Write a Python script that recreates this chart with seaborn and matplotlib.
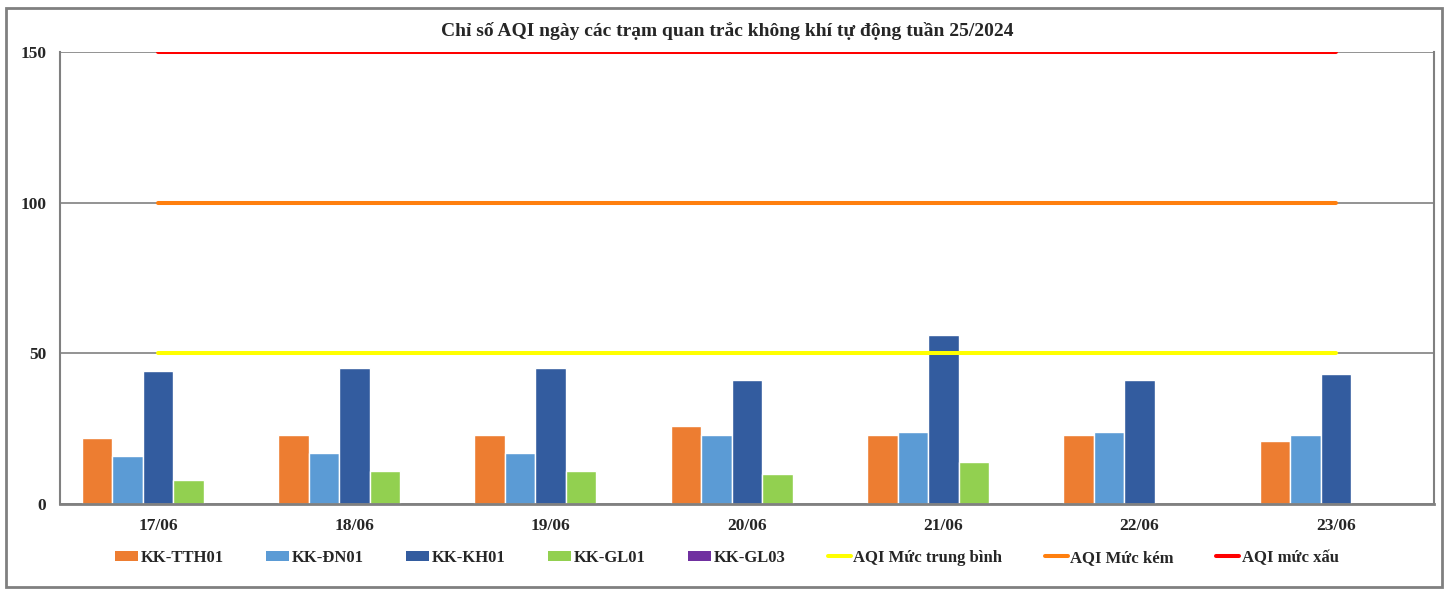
import matplotlib
matplotlib.use("Agg")
import matplotlib.pyplot as plt
import numpy as np
import pandas as pd
import seaborn as sns
from matplotlib.lines import Line2D
from matplotlib.patches import Patch, Rectangle

dates = ["17/06", "18/06", "19/06", "20/06", "21/06", "22/06", "23/06"]
kk_tth01 = [22, 23, 23, 26, 23, 23, 21]
kk_dn01 = [16, 17, 17, 23, 24, 24, 23]
kk_kh01 = [44, 45, 45, 41, 56, 41, 43]
kk_gl01 = [8, 11, 11, 10, 14, np.nan, np.nan]
kk_gl03 = [np.nan] * 7
aqi_trung_binh = [50] * 7
aqi_kem = [100] * 7
aqi_xau = [150] * 7

stations = ["KK-TTH01", "KK-ĐN01", "KK-KH01", "KK-GL01", "KK-GL03"]
station_values = [kk_tth01, kk_dn01, kk_kh01, kk_gl01, kk_gl03]
bar_colors = ["#ED7D31", "#5B9BD5", "#335C9F", "#92D050", "#7030A0"]
line_names = ["AQI Mức trung bình", "AQI Mức kém", "AQI mức xấu"]
line_values = [aqi_trung_binh, aqi_kem, aqi_xau]
line_colors = ["#FFFF00", "#FF7F0E", "#FF0000"]

df = pd.DataFrame(
    [(d, s, v) for s, vals in zip(stations, station_values) for d, v in zip(dates, vals)],
    columns=["Ngày", "Trạm", "AQI"],
)

sns.set_style("white")
plt.rcParams["font.family"] = ["Liberation Serif", "DejaVu Serif"]
plt.rcParams["font.weight"] = "bold"

fig = plt.figure(figsize=(14.51, 5.96), dpi=100)
ax = fig.add_axes([60 / 1451, 1 - 504 / 596, (1434 - 60) / 1451, (504 - 52) / 596])

sns.barplot(
    data=df, x="Ngày", y="AQI", hue="Trạm", order=dates, hue_order=stations,
    palette=bar_colors, width=0.777, gap=0, saturation=1, ax=ax, legend=False, zorder=2,
)

pos = np.arange(len(dates))
for name, vals, color in zip(line_names, line_values, line_colors):
    sns.lineplot(x=pos, y=vals, color=color, linewidth=2.9, ax=ax, zorder=4, legend=False)

ax.set_xlim(-0.5, len(dates) - 0.5)
ax.set_ylim(0, 150)
ax.set_yticks([0, 50, 100, 150])
ax.set_xticks(pos)
ax.set_xticklabels(dates)
ax.set_xticks(np.arange(len(dates) + 1) - 0.5, minor=True)
ax.set_xlabel("")
ax.set_ylabel("")
ax.yaxis.grid(True, color="#808080", linewidth=1.2, zorder=1)
ax.set_axisbelow(True)
ax.tick_params(axis="x", which="major", length=0, pad=10, labelsize=12.5)
ax.tick_params(axis="x", which="minor", length=4, width=1, color="#808080")
ax.tick_params(axis="y", length=0, pad=10, labelsize=12.5)
for lab in ax.get_xticklabels() + ax.get_yticklabels():
    lab.set_fontweight("bold")
for side in ["left", "right", "bottom"]:
    ax.spines[side].set_color("#808080")
    ax.spines[side].set_linewidth(1.5)
ax.spines["bottom"].set_linewidth(2)
ax.spines["top"].set_visible(False)

fig.text(727 / 1451, 1 - 31 / 596,
         "Chỉ số AQI ngày các trạm quan trắc không khí tự động tuần 25/2024",
         ha="center", va="center", fontsize=14, fontweight="bold")

handles = [Patch(facecolor=c, edgecolor="none") for c in bar_colors]
handles += [Line2D([0], [0], color=c, linewidth=2.9) for c in line_colors]
leg = fig.legend(
    handles, stations + line_names, loc="center", bbox_to_anchor=(727 / 1451, 1 - 558 / 596),
    ncol=8, frameon=False, prop={"size": 12, "weight": "bold"},
    handlelength=1.38, handleheight=0.6, handletextpad=0.15, columnspacing=2.55,
)

fig.patches.append(Rectangle((6 / 1451, 1 - 587 / 596), (1442 - 6) / 1451, (587 - 8) / 596,
                             transform=fig.transFigure, fill=False, edgecolor="#808080",
                             linewidth=2))

fig.savefig("out.png", dpi=100)
